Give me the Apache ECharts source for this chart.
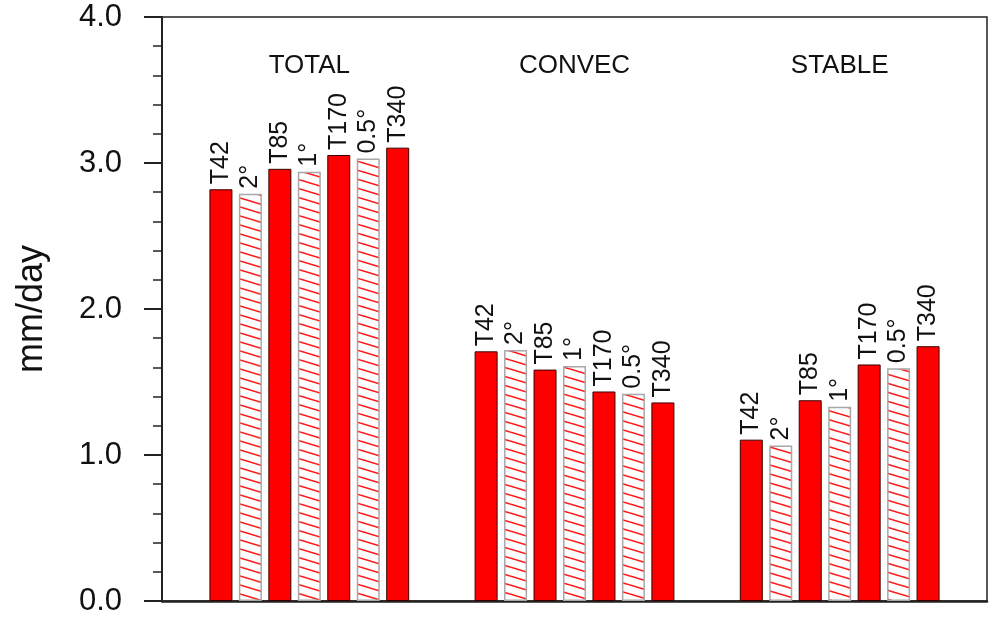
<!DOCTYPE html>
<html>
<head>
<meta charset="utf-8">
<script src="https://cdn.jsdelivr.net/npm/echarts@6/dist/echarts.min.js"></script>
<style>
html,body{margin:0;padding:0;background:#fff;}
#c{width:990px;height:621px;}
</style>
</head>
<body>
<div id="c"></div>
<script>
// ---- data ----
const groups = ['TOTAL', 'CONVEC', 'STABLE'];
const resolutions = ['T42', '2°', 'T85', '1°', 'T170', '0.5°', 'T340'];
const hatched = [false, true, false, true, false, true, false];
const totalValues  = [2.82, 2.79, 2.96, 2.94, 3.055, 3.03, 3.105];
const convecValues = [1.71, 1.72, 1.585, 1.61, 1.435, 1.42, 1.36];
const stableValues = [1.105, 1.065, 1.375, 1.33, 1.62, 1.595, 1.745];
const groupValues = [totalValues, convecValues, stableValues];
const yTicks = [0, 1, 2, 3, 4];

// ---- hatch pattern ----
function makeHatch() {
  const w = 30, h = 9;
  const cv = document.createElement('canvas');
  cv.width = w; cv.height = h;
  const ctx = cv.getContext('2d');
  ctx.fillStyle = '#ffffff';
  ctx.fillRect(0, 0, w, h);
  ctx.strokeStyle = '#ff1a1a';
  ctx.lineWidth = 1.6;
  for (let k = -1; k <= 1; k++) {
    ctx.beginPath();
    ctx.moveTo(0, k * h);
    ctx.lineTo(w, k * h + h);
    ctx.stroke();
  }
  return cv;
}
const hatch = { image: makeHatch(), repeat: 'repeat' };

// ---- build series data ----
const solidData = [], hatchData = [], labelData = [];
groups.forEach((g, gi) => {
  const base = gi * 9 + 1;
  groupValues[gi].forEach((v, i) => {
    const item = { name: resolutions[i], value: [base + i, v] };
    (hatched[i] ? hatchData : solidData).push(item);
  });
  labelData.push({ name: g, value: [base + 3, 3.665] });
});

const FONT = 'Liberation Sans, Arial, Helvetica, sans-serif';
const barLabel = {
  show: true,
  position: 'top',
  rotate: 90,
  align: 'left',
  verticalAlign: 'middle',
  distance: 5,
  formatter: p => p.name,
  fontFamily: FONT,
  fontSize: 25,
  color: '#111'
};

const chart = echarts.init(document.getElementById('c'), null, { renderer: 'canvas' });
chart.setOption({
  animation: false,
  backgroundColor: '#fff',
  grid: {
    left: 162, right: 3, top: 17, bottom: 20,
    show: true, borderColor: '#222', borderWidth: 1.5, backgroundColor: 'transparent'
  },
  xAxis: {
    type: 'value', min: -1, max: 27,
    axisLine: { show: true, onZero: false, lineStyle: { color: '#222', width: 2.5 } },
    axisTick: { show: false }, axisLabel: { show: false }, splitLine: { show: false }
  },
  yAxis: {
    type: 'value', min: yTicks[0], max: yTicks[yTicks.length - 1], interval: 1,
    name: 'mm/day', nameLocation: 'middle', nameGap: 112,
    nameTextStyle: { fontFamily: FONT, fontSize: 36, color: '#111' },
    axisLine: { show: true, onZero: false, lineStyle: { color: '#222', width: 2 } },
    axisTick: { show: true, inside: false, length: 18, lineStyle: { color: '#222', width: 2 } },
    minorTick: { show: true, splitNumber: 5, length: 9, lineStyle: { color: '#222', width: 1.5 } },
    axisLabel: {
      margin: 40, fontFamily: FONT, fontSize: 31, color: '#111',
      formatter: v => v.toFixed(1)
    },
    splitLine: { show: false }
  },
  series: [
    {
      type: 'bar', name: 'spectral', data: solidData, barWidth: 23, barGap: '-100%',
      itemStyle: { color: '#ff0000', borderColor: '#3a0000', borderWidth: 1 },
      label: barLabel
    },
    {
      type: 'bar', name: 'finite volume', data: hatchData, barWidth: 23, barGap: '-100%',
      itemStyle: { color: hatch, borderColor: '#a8a8a8', borderWidth: 1.5 },
      label: barLabel
    },
    {
      type: 'scatter', data: labelData, symbolSize: 0, silent: true,
      itemStyle: { opacity: 1 },
      label: {
        show: true, position: 'inside', formatter: p => p.name,
        fontFamily: FONT, fontSize: 26, color: '#111', opacity: 1
      }
    }
  ]
});
</script>
</body>
</html>
